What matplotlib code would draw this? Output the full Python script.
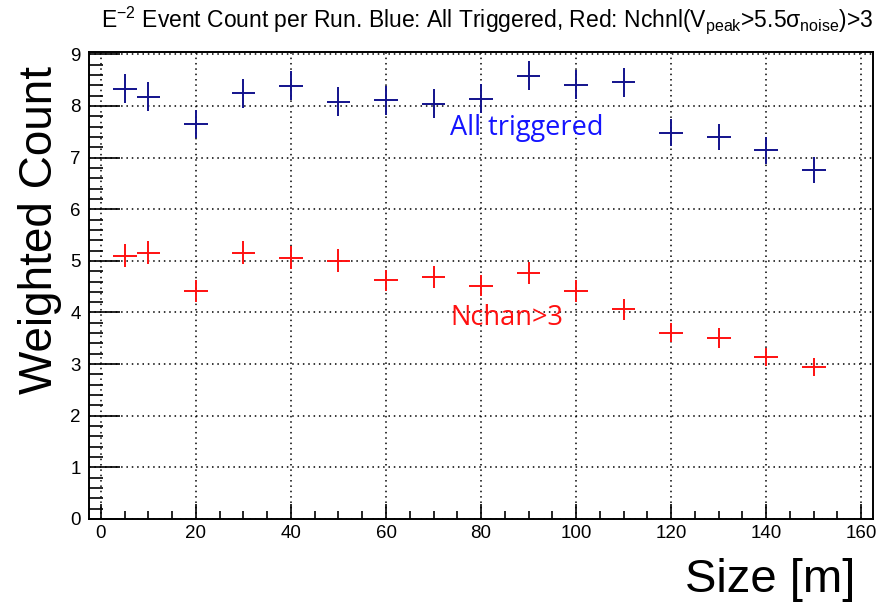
import matplotlib
matplotlib.use('Agg')
import matplotlib.pyplot as plt
from matplotlib.ticker import MultipleLocator

plt.rcParams['font.family'] = ['Liberation Sans', 'DejaVu Sans']
plt.rcParams['mathtext.fontset'] = 'custom'
plt.rcParams['mathtext.rm'] = 'Liberation Sans'
plt.rcParams['mathtext.it'] = 'Liberation Sans'
plt.rcParams['mathtext.sf'] = 'Liberation Sans'

# Array size bins [m]
sizes = [5, 10, 20, 30, 40, 50, 60, 70, 80, 90, 100, 110, 120, 130, 140, 150]
half_width = [2.5] * len(sizes)

# All triggered events
trig_counts = [8.33, 8.18, 7.65, 8.25, 8.39, 8.08, 8.11, 8.04, 8.14, 8.59,
               8.41, 8.46, 7.48, 7.40, 7.14, 6.76]
trig_errs = [0.28, 0.28, 0.27, 0.28, 0.28, 0.28, 0.28, 0.28, 0.28, 0.28,
             0.28, 0.28, 0.26, 0.26, 0.26, 0.25]

# Events with more than 3 channels over threshold
nchan_counts = [5.10, 5.16, 4.42, 5.16, 5.06, 5.00, 4.62, 4.69, 4.52, 4.77,
                4.42, 4.06, 3.61, 3.51, 3.14, 2.94]
nchan_errs = [0.22, 0.22, 0.21, 0.22, 0.22, 0.22, 0.21, 0.21, 0.21, 0.21,
              0.21, 0.20, 0.19, 0.19, 0.18, 0.17]

fig = plt.figure(figsize=(8.9, 6.07), dpi=100)
ax = fig.add_axes([0.1, 0.145, 0.881, 0.7693])

ax.errorbar(sizes, trig_counts, xerr=half_width, yerr=trig_errs, fmt='none',
            ecolor='#12128c', elinewidth=1.4, capsize=0)
ax.errorbar(sizes, nchan_counts, xerr=half_width, yerr=nchan_errs, fmt='none',
            ecolor='#ff1010', elinewidth=1.4, capsize=0)

ax.set_xlim(-2.5, 162.5)
ax.set_ylim(0, 9.045)

ax.xaxis.set_major_locator(MultipleLocator(20))
ax.xaxis.set_minor_locator(MultipleLocator(5))
ax.yaxis.set_major_locator(MultipleLocator(1))
ax.yaxis.set_minor_locator(MultipleLocator(0.2))
ax.tick_params(axis='both', which='both', direction='in', top=False, right=False,
               width=1.2, labelsize=13.5, colors='black')
ax.tick_params(axis='x', which='major', length=11, pad=4)
ax.tick_params(axis='x', which='minor', length=6)
ax.tick_params(axis='y', which='major', length=22, pad=6)
ax.tick_params(axis='y', which='minor', length=10)

ax.grid(True, which='major', color='black', linestyle=(0, (1, 2.5)), linewidth=1.1)
for s in ax.spines.values():
    s.set_linewidth(1.4)

ax.text(73.5, 7.58, 'All triggered', color='#1414ff', fontsize=19.5,
        family=['Open Sans', 'DejaVu Sans'], va='center')
ax.text(73.5, 3.89, 'Nchan>3', color='#ff1010', fontsize=19.5,
        family=['Open Sans', 'DejaVu Sans'], va='center')

fig.text(0.548, 0.966,
         r'E$^{-2}$ Event Count per Run. Blue: All Triggered, Red: '
         r'Nchnl(V$_{\rm peak}$>5.5$\sigma_{\rm noise}$)>3',
         ha='center', va='center', fontsize=16.5)
fig.text(40 / 890, 1 - 230 / 607, 'Weighted Count', rotation=90,
         ha='center', va='center', fontsize=33)
fig.text(855 / 890, 1 - 580 / 607, 'Size [m]', ha='right', va='center', fontsize=34)

fig.savefig('out.png', dpi=100)
